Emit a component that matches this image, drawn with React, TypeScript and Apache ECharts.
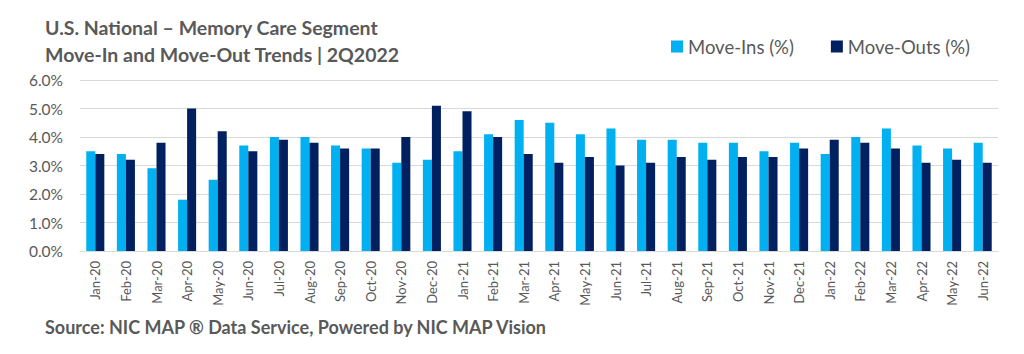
import React, { useEffect, useRef } from "react";
import * as echarts from "echarts";

const categories = [
  "Jan-20", "Feb-20", "Mar-20", "Apr-20", "May-20", "Jun-20", "Jul-20", "Aug-20", "Sep-20", "Oct-20", "Nov-20", "Dec-20",
  "Jan-21", "Feb-21", "Mar-21", "Apr-21", "May-21", "Jun-21", "Jul-21", "Aug-21", "Sep-21", "Oct-21", "Nov-21", "Dec-21",
  "Jan-22", "Feb-22", "Mar-22", "Apr-22", "May-22", "Jun-22",
];
const moveIns = [3.5, 3.4, 2.9, 1.8, 2.5, 3.7, 4.0, 4.0, 3.7, 3.6, 3.1, 3.2, 3.5, 4.1, 4.6, 4.5, 4.1, 4.3, 3.9, 3.9, 3.8, 3.8, 3.5, 3.8, 3.4, 4.0, 4.3, 3.7, 3.6, 3.8];
const moveOuts = [3.4, 3.2, 3.8, 5.0, 4.2, 3.5, 3.9, 3.8, 3.6, 3.6, 4.0, 5.1, 4.9, 4.0, 3.4, 3.1, 3.3, 3.0, 3.1, 3.3, 3.2, 3.3, 3.3, 3.6, 3.9, 3.8, 3.6, 3.1, 3.2, 3.1];
const seriesNames = ["Move-Ins (%)", "Move-Outs (%)"];
const titleLines = ["U.S. National \u2013 Memory Care Segment", "Move-In and Move-Out Trends | 2Q2022"];
const sourceText = "Source: NIC MAP \u00AE Data Service, Powered by NIC MAP Vision";

const FONT = "Lato, 'Open Sans', sans-serif";
const GREY = "#595959";

export default function App() {
  const ref = useRef<HTMLDivElement>(null);
  useEffect(() => {
    const chart = echarts.init(ref.current!, null, { renderer: "svg" });
    chart.setOption({
      animation: false,
      textStyle: { fontFamily: FONT },
      title: [
        {
          text: titleLines.join("\n"),
          left: 40,
          top: 9,
          textStyle: { fontFamily: FONT, fontSize: 19.5, fontWeight: "bold", color: GREY, lineHeight: 27 },
        },
        {
          text: sourceText,
          left: 40,
          top: 313,
          textStyle: { fontFamily: FONT, fontSize: 18, fontWeight: "bold", color: GREY },
        },
      ],
      legend: {
        data: seriesNames,
        left: 666,
        top: 32,
        itemWidth: 12,
        itemHeight: 12,
        itemGap: 37,
        icon: "rect",
        textStyle: { fontFamily: FONT, fontSize: 18.5, color: GREY },
      },
      grid: { left: 80, right: 26, top: 80, bottom: 103, containLabel: false },
      xAxis: {
        type: "category",
        data: categories,
        axisLine: { lineStyle: { color: "#d9d9d9" } },
        axisTick: { show: false },
        axisLabel: { rotate: 90, fontSize: 13, color: GREY, margin: 10, fontFamily: FONT },
      },
      yAxis: {
        type: "value",
        min: 0,
        max: 6,
        interval: 1,
        axisLabel: { formatter: (v: number) => v.toFixed(1) + "%", fontSize: 15.5, color: GREY, margin: 17, fontFamily: FONT },
        splitLine: { lineStyle: { color: "#d9d9d9" } },
        axisLine: { show: false },
        axisTick: { show: false },
      },
      series: [
        { name: seriesNames[0], type: "bar", data: moveIns, itemStyle: { color: "#00B0F0" }, barGap: "0%", barCategoryGap: "41%" },
        { name: seriesNames[1], type: "bar", data: moveOuts, itemStyle: { color: "#002060" }, barGap: "0%", barCategoryGap: "41%" },
      ],
    });
    return () => chart.dispose();
  }, []);
  return <div ref={ref} style={{ width: 1024, height: 354, position: "absolute", left: 0, top: 0, background: "#fff" }} />;
}
